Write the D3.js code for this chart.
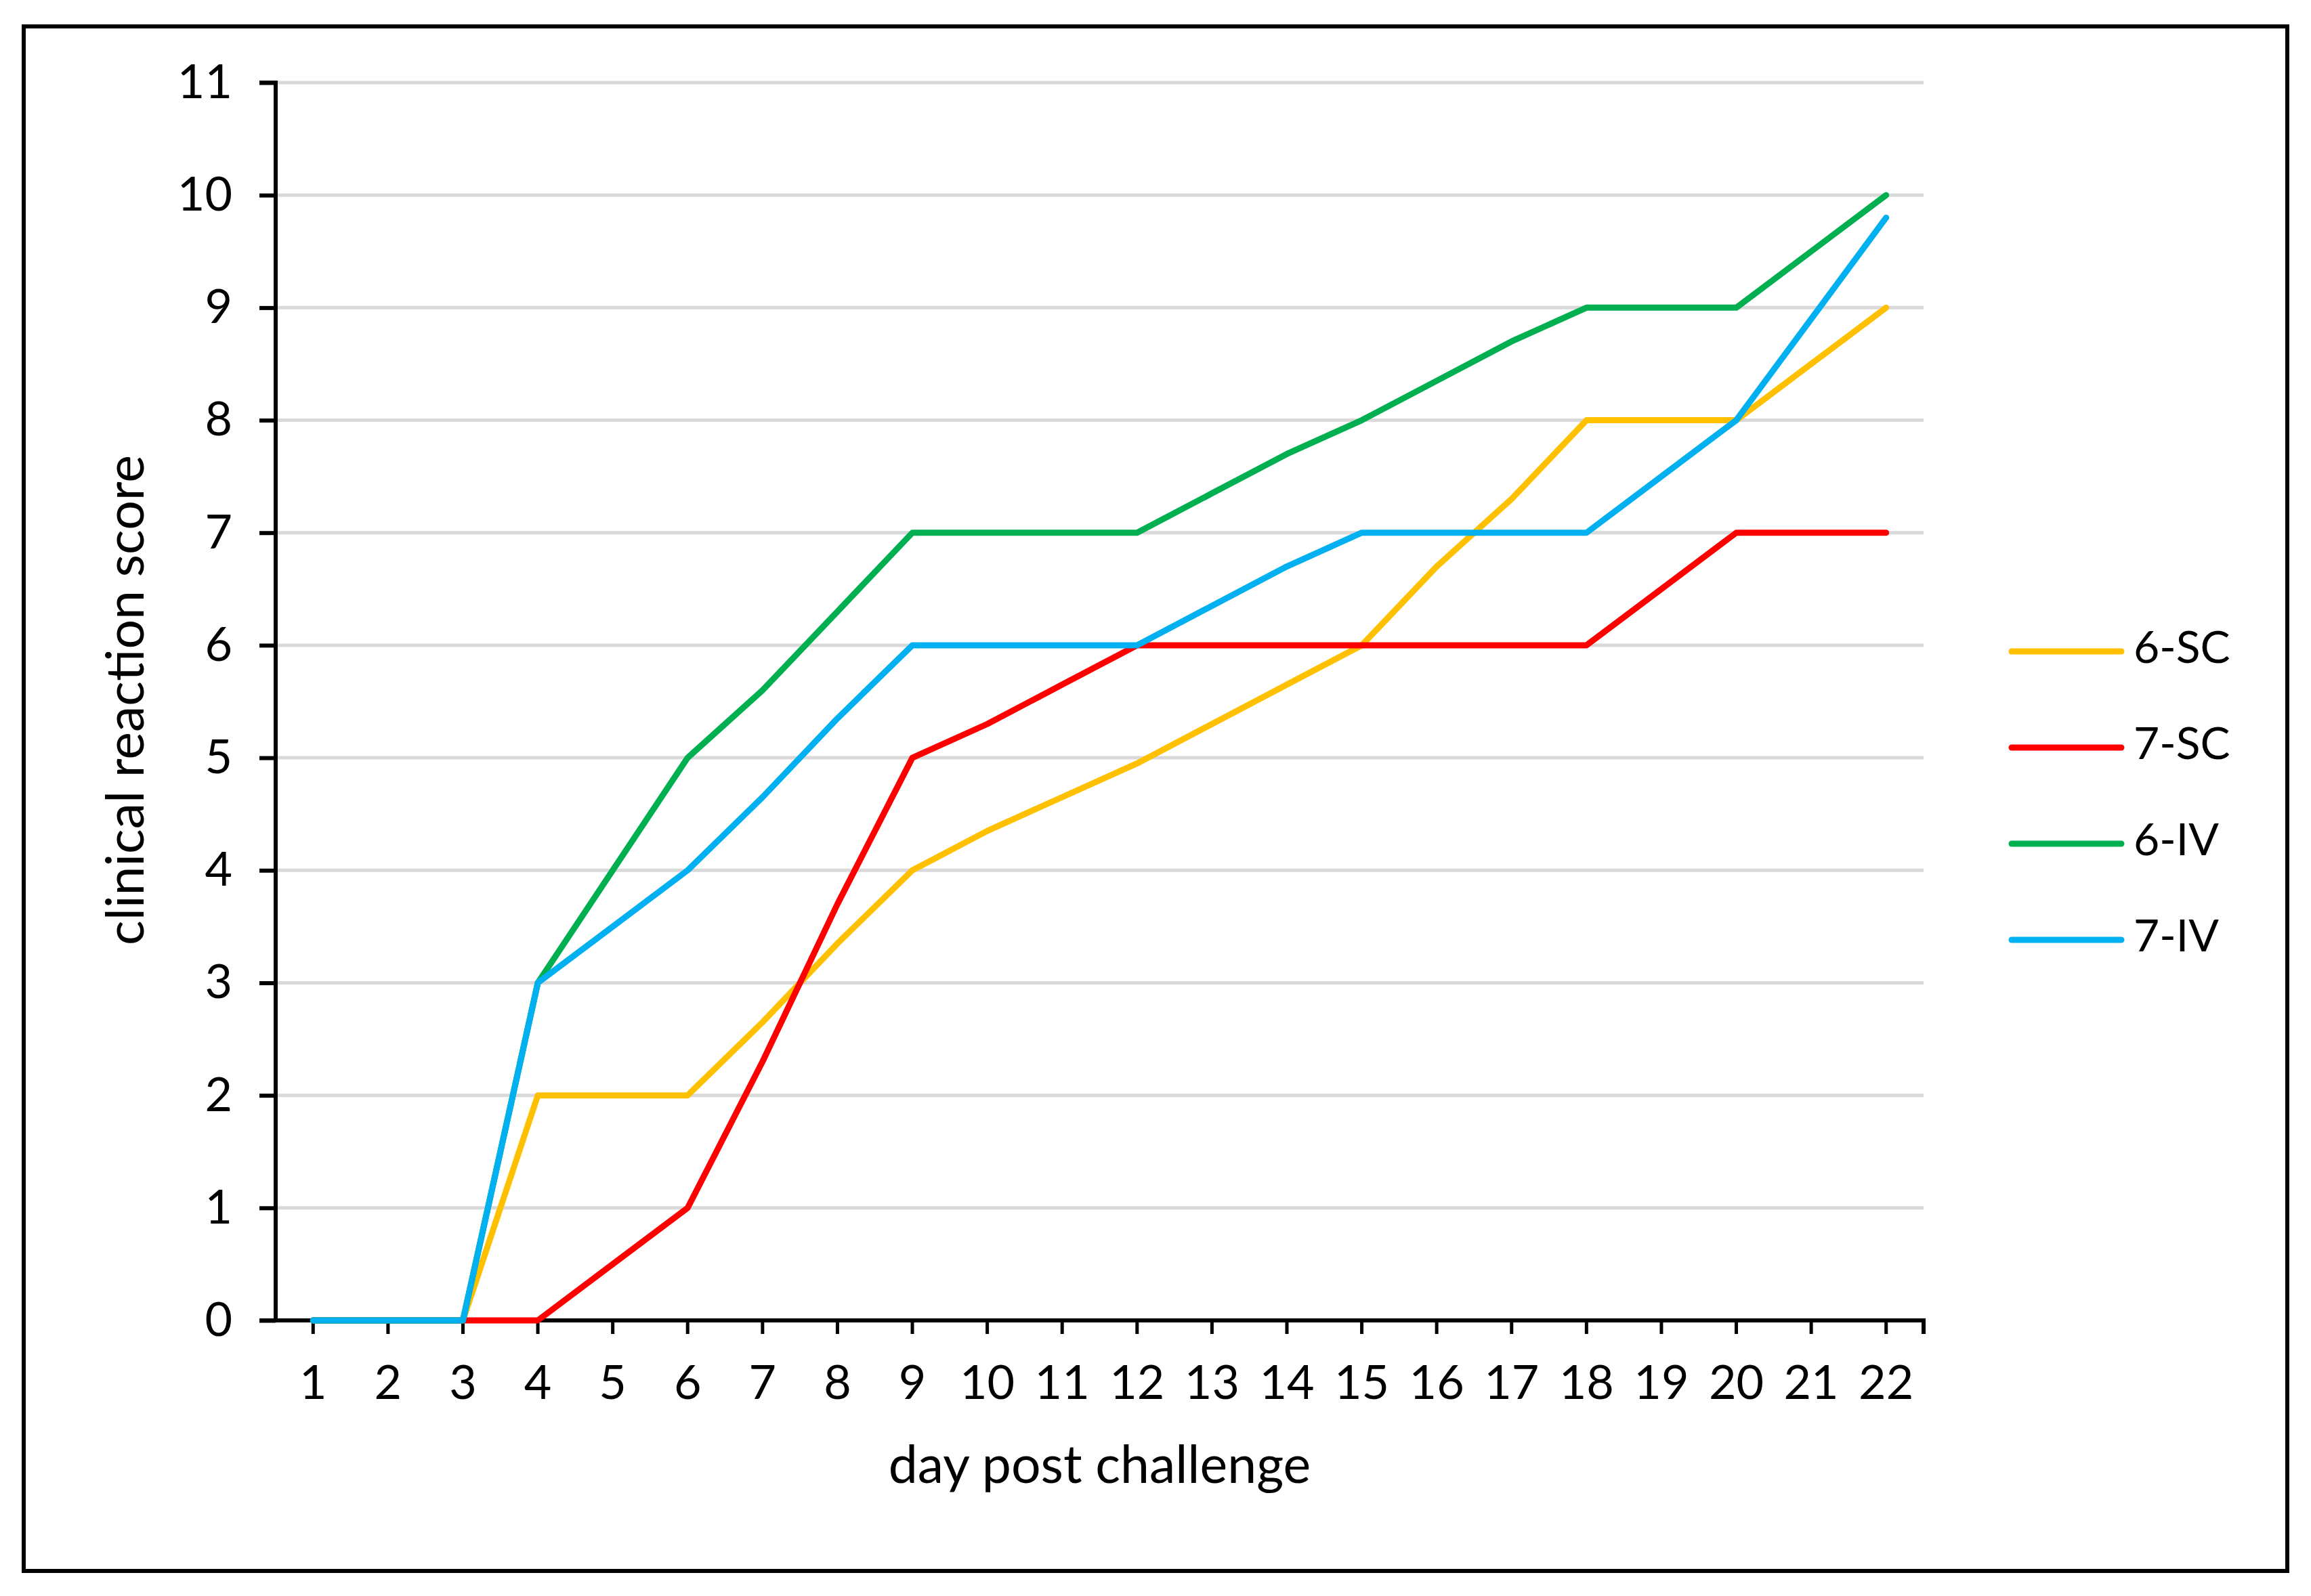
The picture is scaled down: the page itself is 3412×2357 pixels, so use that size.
<!DOCTYPE html>
<html><head><meta charset="utf-8">
<script src="https://cdn.jsdelivr.net/npm/d3@7"></script>
<style>html,body{margin:0;padding:0;background:#fff;}svg{display:block;}</style>
</head><body>
<svg id="chart" width="3412" height="2357"></svg>
<script>
const days = ["1","2","3","4","5","6","7","8","9","10","11","12","13","14","15","16","17","18","19","20","21","22"];
const yTicks = [0,1,2,3,4,5,6,7,8,9,10,11];
const seriesNames = ["6-SC","7-SC","6-IV","7-IV"];
const seriesColors = ["#FFC000","#FF0000","#00B050","#00B0F0"];
const sc6 = [0,0,0,2,2,2,2.65,3.35,4,4.35,4.65,4.95,5.3,5.65,6,6.7,7.3,8,8,8,8.5,9];
const sc7 = [0,0,0,0,0.5,1,2.3,3.7,5,5.3,5.65,6,6,6,6,6,6,6,6.5,7,7,7];
const iv6 = [0,0,0,3,4,5,5.6,6.3,7,7,7,7,7.35,7.7,8,8.35,8.7,9,9,9,9.5,10];
const iv7 = [0,0,0,3,3.5,4,4.65,5.35,6,6,6,6,6.35,6.7,7,7,7,7,7.5,8,8.9,9.8];
const seriesValues = [sc6, sc7, iv6, iv7];

const svg = d3.select("#chart");
const font = "Lato, 'Open Sans', sans-serif";
const L = 407, R = 2840, T = 122, B = 1950;

svg.append("rect").attr("x",35).attr("y",39).attr("width",3342).attr("height",2281)
  .attr("fill","#fff").attr("stroke","#000").attr("stroke-width",6);

const x = d3.scaleBand().domain(days).range([L,R]);
const y = d3.scaleLinear().domain([0,11]).range([B,T]);

// gridlines
svg.append("g").selectAll("line").data(yTicks.filter(d=>d>0)).join("line")
  .attr("x1",L).attr("x2",R).attr("y1",d=>y(d)).attr("y2",d=>y(d))
  .attr("stroke","#d9d9d9").attr("stroke-width",5);

// y axis
const ya = svg.append("g").attr("transform",`translate(${L},0)`)
  .call(d3.axisLeft(y).tickValues(yTicks).tickSize(24).tickPadding(40));
ya.select(".domain").attr("stroke","#000").attr("stroke-width",6).attr("d",`M-24,${T}H0V${B}`);
ya.selectAll(".tick line").attr("stroke","#000").attr("stroke-width",6);
ya.selectAll(".tick text").attr("font-family",font).attr("font-size",70).attr("fill","#000");

// x axis
const xa = svg.append("g").attr("transform",`translate(0,${B})`)
  .call(d3.axisBottom(x).tickSize(20).tickPadding(46));
xa.select(".domain").attr("stroke","#000").attr("stroke-width",6).attr("d",`M${L-24},0H${R}V20`);
xa.selectAll(".tick line").attr("stroke","#000").attr("stroke-width",5);
xa.selectAll(".tick text").attr("font-family",font).attr("font-size",70).attr("fill","#000");

// lines
const line = d3.line().x((d,i)=>x(days[i])+x.bandwidth()/2).y(d=>y(d));
svg.append("g").selectAll("path").data(seriesValues).join("path")
  .attr("d",line).attr("fill","none")
  .attr("stroke",(d,i)=>seriesColors[i]).attr("stroke-width",9)
  .attr("stroke-linejoin","round").attr("stroke-linecap","round");

// axis titles
svg.append("text").attr("x",(L+R)/2).attr("y",2170).attr("text-anchor","middle")
  .attr("dominant-baseline","middle").attr("font-family",font).attr("font-size",77).text("day post challenge");
svg.append("text").attr("transform",`translate(192,${(T+B)/2 - 2}) rotate(-90)`).attr("text-anchor","middle")
  .attr("dominant-baseline","middle").attr("font-family",font).attr("font-size",77).text("clinical reaction score");

// legend
const lg = svg.append("g").selectAll("g").data(seriesNames).join("g")
  .attr("transform",(d,i)=>`translate(2970,${962+i*142})`);
lg.append("line").attr("x1",0).attr("x2",162).attr("stroke",(d,i)=>seriesColors[i])
  .attr("stroke-width",9).attr("stroke-linecap","round");
lg.append("text").attr("x",180).attr("dominant-baseline","middle").attr("font-family",font)
  .attr("font-size",66).text(d=>d);
</script>
</body></html>
